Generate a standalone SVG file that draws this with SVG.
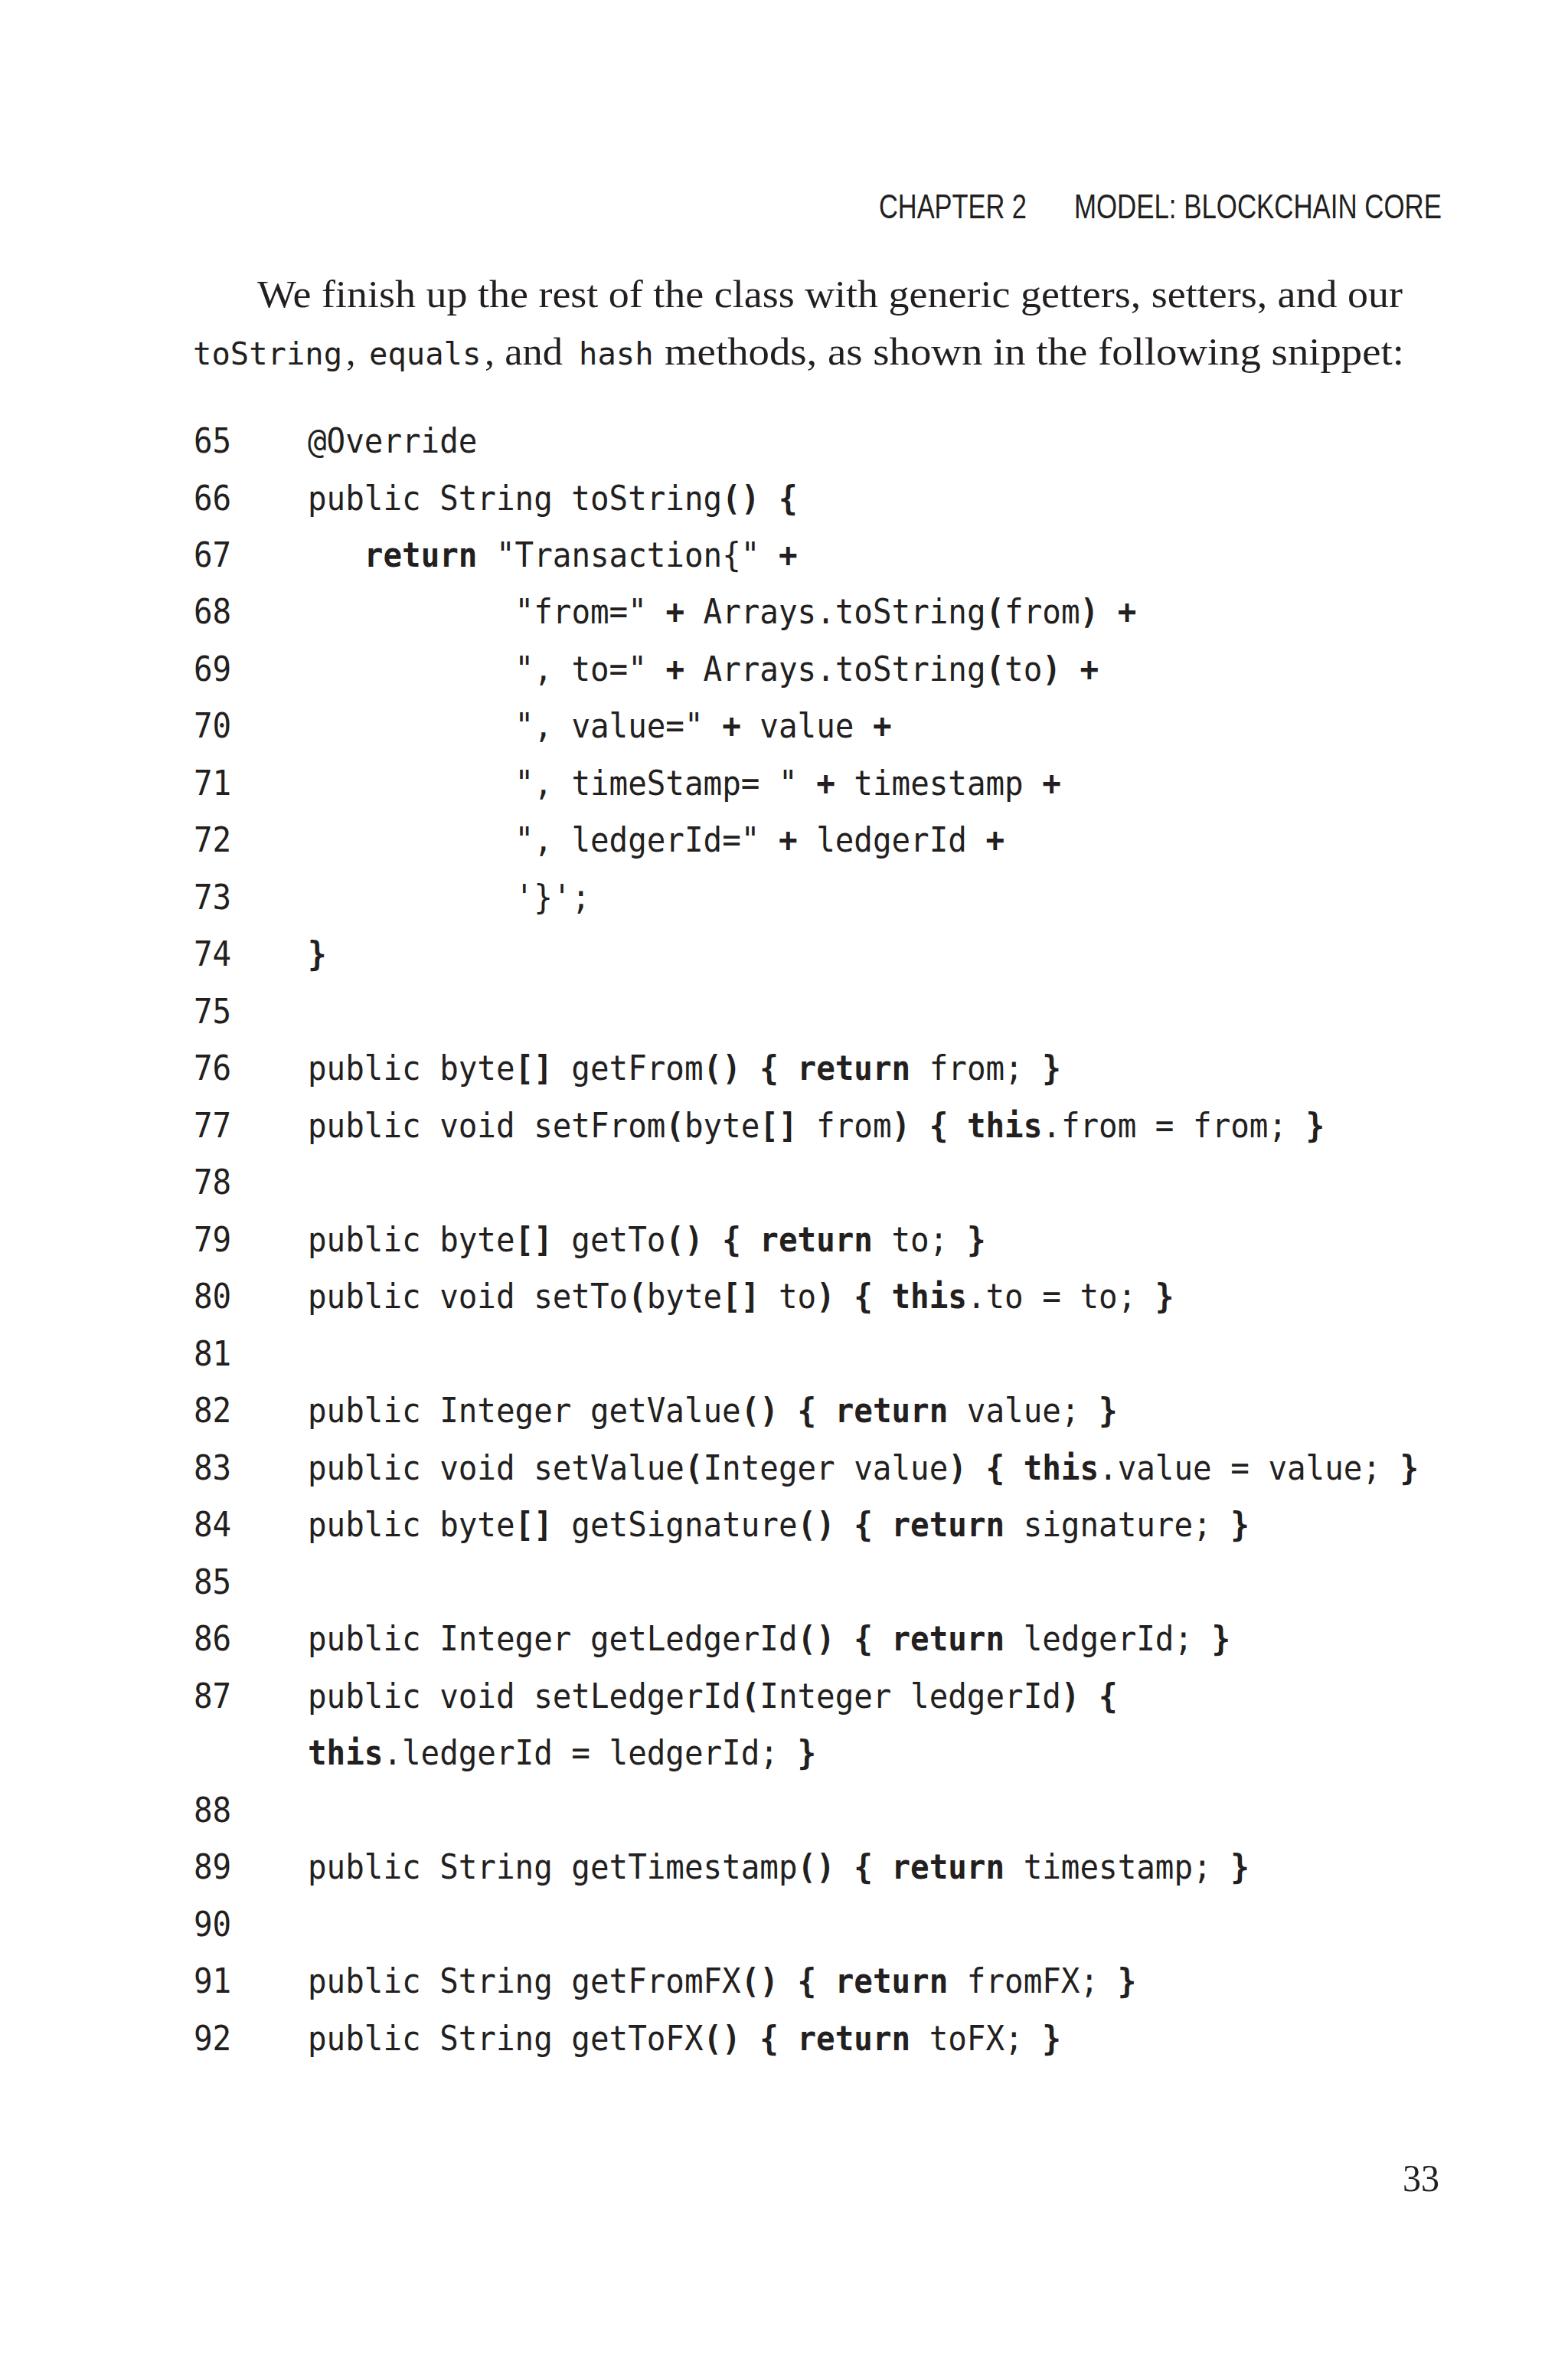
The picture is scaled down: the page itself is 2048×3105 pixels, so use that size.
<svg xmlns="http://www.w3.org/2000/svg" width="2048" height="3105" viewBox="0 0 2048 3105">
<style>
.hdr{font-family:"Liberation Sans",Arial,sans-serif;font-size:45px;fill:#231f20}
.ser{font-family:"Liberation Serif","Times New Roman",serif;font-size:50px;fill:#231f20}
.mono{font-family:"DejaVu Sans Mono","Liberation Mono",monospace;font-size:45px;fill:#231f20}
.monop{font-family:"DejaVu Sans Mono","Liberation Mono",monospace;font-size:40.5px;fill:#231f20}
.b{font-weight:bold}
</style>
<rect x="0" y="0" width="2048" height="3105" fill="#ffffff"/>
<g id="header">
<text class="hdr" x="1148" y="285" textLength="193" lengthAdjust="spacingAndGlyphs">CHAPTER 2</text>
<text class="hdr" x="1403" y="285" textLength="480" lengthAdjust="spacingAndGlyphs">MODEL: BLOCKCHAIN CORE</text>
</g>
<g id="paragraph">
<text class="ser" x="336" y="401" textLength="1496" lengthAdjust="spacingAndGlyphs">We finish up the rest of the class with generic getters, setters, and our</text>
<text class="monop" x="252" y="476">toString</text>
<text class="ser" x="452" y="476">,</text>
<text class="monop" x="482" y="476">equals</text>
<text class="ser" x="633" y="476" textLength="102" lengthAdjust="spacingAndGlyphs">, and</text>
<text class="monop" x="756" y="476">hash</text>
<text class="ser" x="868" y="476" textLength="966" lengthAdjust="spacingAndGlyphs">methods, as shown in the following snippet:</text>
</g>
<g id="code" transform="scale(0.9081,1)">
<g id="line-numbers" class="mono">
<text x="278.6" y="591">65</text>
<text x="278.6" y="665.5">66</text>
<text x="278.6" y="740">67</text>
<text x="278.6" y="814.5">68</text>
<text x="278.6" y="889">69</text>
<text x="278.6" y="963.5">70</text>
<text x="278.6" y="1038">71</text>
<text x="278.6" y="1112.5">72</text>
<text x="278.6" y="1187">73</text>
<text x="278.6" y="1261.5">74</text>
<text x="278.6" y="1336">75</text>
<text x="278.6" y="1410.5">76</text>
<text x="278.6" y="1485">77</text>
<text x="278.6" y="1559.5">78</text>
<text x="278.6" y="1634">79</text>
<text x="278.6" y="1708.5">80</text>
<text x="278.6" y="1783">81</text>
<text x="278.6" y="1857.5">82</text>
<text x="278.6" y="1932">83</text>
<text x="278.6" y="2006.5">84</text>
<text x="278.6" y="2081">85</text>
<text x="278.6" y="2155.5">86</text>
<text x="278.6" y="2230">87</text>
<text x="278.6" y="2379">88</text>
<text x="278.6" y="2453.5">89</text>
<text x="278.6" y="2528">90</text>
<text x="278.6" y="2602.5">91</text>
<text x="278.6" y="2677">92</text>
</g>
<g id="code-lines" class="mono" xml:space="preserve">
<text x="442.7" y="591">@Override</text>
<text x="442.7" y="665.5">public String toString<tspan class="b">()</tspan> <tspan class="b">{</tspan></text>
<text x="524" y="740"><tspan class="b">return</tspan> "Transaction{" <tspan class="b">+</tspan></text>
<text x="740.7" y="814.5">"from=" <tspan class="b">+</tspan> Arrays.toString<tspan class="b">(</tspan>from<tspan class="b">)</tspan> <tspan class="b">+</tspan></text>
<text x="740.7" y="889">", to=" <tspan class="b">+</tspan> Arrays.toString<tspan class="b">(</tspan>to<tspan class="b">)</tspan> <tspan class="b">+</tspan></text>
<text x="740.7" y="963.5">", value=" <tspan class="b">+</tspan> value <tspan class="b">+</tspan></text>
<text x="740.7" y="1038">", timeStamp= " <tspan class="b">+</tspan> timestamp <tspan class="b">+</tspan></text>
<text x="740.7" y="1112.5">", ledgerId=" <tspan class="b">+</tspan> ledgerId <tspan class="b">+</tspan></text>
<text x="740.7" y="1187">'}';</text>
<text x="442.7" y="1261.5"><tspan class="b">}</tspan></text>
<text x="442.7" y="1410.5">public byte<tspan class="b">[]</tspan> getFrom<tspan class="b">()</tspan> <tspan class="b">{</tspan> <tspan class="b">return</tspan> from; <tspan class="b">}</tspan></text>
<text x="442.7" y="1485">public void setFrom<tspan class="b">(</tspan>byte<tspan class="b">[]</tspan> from<tspan class="b">)</tspan> <tspan class="b">{</tspan> <tspan class="b">this</tspan>.from = from; <tspan class="b">}</tspan></text>
<text x="442.7" y="1634">public byte<tspan class="b">[]</tspan> getTo<tspan class="b">()</tspan> <tspan class="b">{</tspan> <tspan class="b">return</tspan> to; <tspan class="b">}</tspan></text>
<text x="442.7" y="1708.5">public void setTo<tspan class="b">(</tspan>byte<tspan class="b">[]</tspan> to<tspan class="b">)</tspan> <tspan class="b">{</tspan> <tspan class="b">this</tspan>.to = to; <tspan class="b">}</tspan></text>
<text x="442.7" y="1857.5">public Integer getValue<tspan class="b">()</tspan> <tspan class="b">{</tspan> <tspan class="b">return</tspan> value; <tspan class="b">}</tspan></text>
<text x="442.7" y="1932">public void setValue<tspan class="b">(</tspan>Integer value<tspan class="b">)</tspan> <tspan class="b">{</tspan> <tspan class="b">this</tspan>.value = value; <tspan class="b">}</tspan></text>
<text x="442.7" y="2006.5">public byte<tspan class="b">[]</tspan> getSignature<tspan class="b">()</tspan> <tspan class="b">{</tspan> <tspan class="b">return</tspan> signature; <tspan class="b">}</tspan></text>
<text x="442.7" y="2155.5">public Integer getLedgerId<tspan class="b">()</tspan> <tspan class="b">{</tspan> <tspan class="b">return</tspan> ledgerId; <tspan class="b">}</tspan></text>
<text x="442.7" y="2230">public void setLedgerId<tspan class="b">(</tspan>Integer ledgerId<tspan class="b">)</tspan> <tspan class="b">{</tspan></text>
<text x="442.7" y="2304.5"><tspan class="b">this</tspan>.ledgerId = ledgerId; <tspan class="b">}</tspan></text>
<text x="442.7" y="2453.5">public String getTimestamp<tspan class="b">()</tspan> <tspan class="b">{</tspan> <tspan class="b">return</tspan> timestamp; <tspan class="b">}</tspan></text>
<text x="442.7" y="2602.5">public String getFromFX<tspan class="b">()</tspan> <tspan class="b">{</tspan> <tspan class="b">return</tspan> fromFX; <tspan class="b">}</tspan></text>
<text x="442.7" y="2677">public String getToFX<tspan class="b">()</tspan> <tspan class="b">{</tspan> <tspan class="b">return</tspan> toFX; <tspan class="b">}</tspan></text>
</g>
</g>
<g id="page-number">
<text class="ser" x="1832" y="2861" textLength="48" lengthAdjust="spacingAndGlyphs">33</text>
</g>
</svg>
